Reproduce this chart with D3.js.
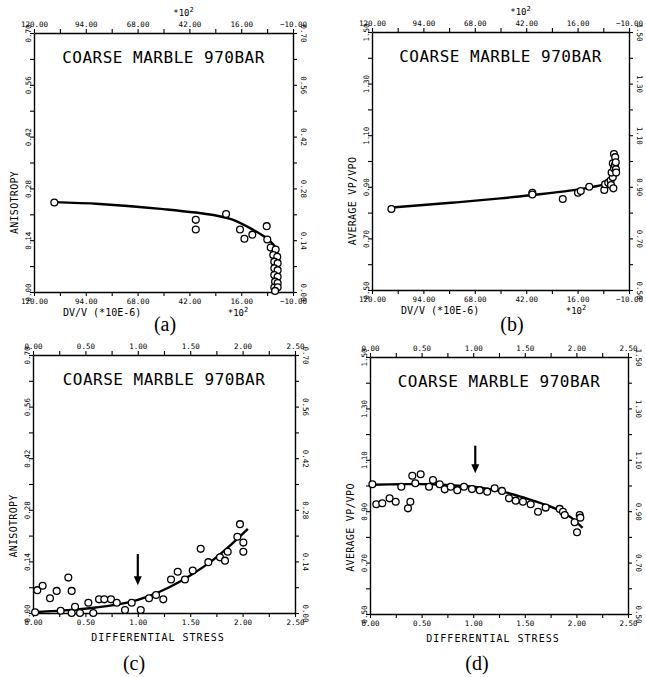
<!DOCTYPE html>
<html><head><meta charset="utf-8">
<script src="https://cdn.jsdelivr.net/npm/d3@7"></script>
<style>body{margin:0;background:#fff} svg{display:block}</style>
</head><body>
<svg id="chart" width="646" height="677"></svg>
<script>
// ---------- data ----------
const dvTicks = [120, 94, 68, 42, 16, -10];
const dvMinor = [107, 81, 55, 29, 3];
const stressTicks = [0, 0.5, 1.0, 1.5, 2.0, 2.5];
const stressMinor = [0.25, 0.75, 1.25, 1.75, 2.25];
const anisTicks = [0, 0.14, 0.28, 0.42, 0.56, 0.70];
const anisMinor = [0.07, 0.21, 0.35, 0.49, 0.63];
const vpTicks = [0.5, 0.7, 0.9, 1.1, 1.3, 1.5];
const vpMinor = [0.6, 0.8, 1.0, 1.2, 1.4];

const titleText = "COARSE MARBLE 970BAR";
const captions = ["(a)", "(b)", "(c)", "(d)"];

// (a) anisotropy vs dV/V
const aPtsX = [109.8, 38.8, 38.8, 23.6, 16.6, 14.4, 10.4, 3.2, 2.9, 1.2, -1.3, -0.1, -2.1, -0.6, -2.3, -0.6, -2.3, -0.6, -2.3, -1.0, -2.3, -0.6, -2.3, -1.0];
const aPtsY = [0.242, 0.195, 0.169, 0.211, 0.169, 0.144, 0.155, 0.178, 0.142, 0.120, 0.115, 0.100, 0.095, 0.082, 0.078, 0.064, 0.059, 0.046, 0.041, 0.028, 0.024, 0.012, 0.013, 0.003];
const aFitX = [110, 87, 55, 30, 20, 10, 3.2, -1.5, -2.3, -2.5];
const aFitY = [0.243, 0.238, 0.224, 0.208, 0.195, 0.168, 0.145, 0.118, 0.07, 0.02];

// (b) average Vp/Vp0 vs dV/V
const bPtsX = [110.2, 38.9, 38.9, 23.5, 15.8, 14.4, 10.1, 2.5, 2.1, 0.5, -0.7, -1.8, -1.2, -2.4, -1.8, -2.9, -3.4, -2.4, -0.9, -2.1, -3.0, -3.3, -3.5];
const bPtsY = [0.814, 0.877, 0.870, 0.853, 0.877, 0.884, 0.900, 0.888, 0.910, 0.916, 0.924, 0.937, 0.955, 0.972, 0.991, 0.984, 0.968, 1.027, 0.907, 0.894, 1.015, 0.995, 0.955];
const bFitX = [110, 80, 55, 39, 20, 8, 2, -1, -2, -2.5];
const bFitY = [0.82, 0.838, 0.855, 0.868, 0.885, 0.900, 0.912, 0.93, 0.96, 0.985];

// (c) anisotropy vs differential stress
const cPtsX = [0.02, 0.041, 0.092, 0.162, 0.226, 0.337, 0.369, 0.264, 0.401, 0.369, 0.448, 0.528, 0.575, 0.630, 0.680, 0.744, 0.799, 0.878, 0.942, 1.028, 1.107, 1.174, 1.243, 1.317, 1.381, 1.450, 1.524, 1.600, 1.673, 1.784, 1.832, 1.858, 1.950, 1.975, 2.007, 2.007];
const cPtsY = [0.002, 0.062, 0.074, 0.040, 0.060, 0.096, 0.060, 0.006, 0.017, 0.000, 0.000, 0.028, 0.000, 0.037, 0.037, 0.037, 0.028, 0.008, 0.028, 0.008, 0.040, 0.049, 0.037, 0.091, 0.112, 0.091, 0.115, 0.174, 0.138, 0.151, 0.142, 0.166, 0.207, 0.241, 0.191, 0.166];
const cFitX = [0, 0.3, 0.6, 0.9, 1.1, 1.3, 1.5, 1.7, 1.9, 2.05];
const cFitY = [0.002, 0.007, 0.015, 0.028, 0.045, 0.07, 0.102, 0.14, 0.188, 0.228];
const cArrow = [1.0, 0.16, 0.075];   // x, tail y, tip y

// (d) average Vp/Vp0 vs differential stress
const dPtsX = [0.023, 0.061, 0.119, 0.19, 0.249, 0.303, 0.368, 0.391, 0.410, 0.439, 0.491, 0.572, 0.610, 0.675, 0.724, 0.782, 0.846, 0.911, 0.988, 1.063, 1.136, 1.208, 1.279, 1.347, 1.412, 1.482, 1.557, 1.628, 1.702, 1.838, 1.870, 1.887, 1.983, 2.006, 2.032, 2.038];
const dPtsY = [1.005, 0.927, 0.931, 0.950, 0.937, 0.995, 0.911, 0.937, 1.038, 1.009, 1.044, 0.995, 1.021, 1.005, 0.985, 0.995, 0.982, 0.995, 0.986, 0.982, 0.976, 0.989, 0.979, 0.950, 0.941, 0.937, 0.927, 0.898, 0.914, 0.909, 0.898, 0.885, 0.857, 0.818, 0.885, 0.875];
const dFitX = [0.02, 0.3, 0.6, 0.9, 1.1, 1.3, 1.5, 1.7, 1.85, 1.95, 2.06];
const dFitY = [1.003, 1.005, 1.005, 0.998, 0.99, 0.975, 0.952, 0.925, 0.9, 0.875, 0.835];
const dArrow = [1.02, 1.155, 1.048];

// ---------- layout ----------
const svg = d3.select("#chart");
const MONO = "'DejaVu Sans Mono', monospace";
const fmt = d3.format(".2f");

const panels = [
  {frame:{x0:34,x1:293,y0:33,y1:292}, xDom:[120,-10], yDom:[0,0.7], xT:dvTicks, xM:dvMinor, yT:anisTicks, yM:anisMinor,
   px:aPtsX, py:aPtsY, fx:aFitX, fy:aFitY, arrow:null, xLab:"DV/V (*10E-6)", yLab:"ANISOTROPY", exp:true, cap:captions[0], capX:165, capY:331},
  {frame:{x0:372,x1:629,y0:32,y1:290}, xDom:[120,-10], yDom:[0.5,1.5], xT:dvTicks, xM:dvMinor, yT:vpTicks, yM:vpMinor,
   px:bPtsX, py:bPtsY, fx:bFitX, fy:bFitY, arrow:null, xLab:"DV/V (*10E-6)", yLab:"AVERAGE VP/VPO", exp:true, cap:captions[1], capX:512, capY:331},
  {frame:{x0:33,x1:295,y0:355,y1:613}, xDom:[0,2.5], yDom:[0,0.7], xT:stressTicks, xM:stressMinor, yT:anisTicks, yM:anisMinor,
   px:cPtsX, py:cPtsY, fx:cFitX, fy:cFitY, arrow:cArrow, xLab:"DIFFERENTIAL STRESS", yLab:"ANISOTROPY", exp:false, cap:captions[2], capX:134, capY:670},
  {frame:{x0:370,x1:628,y0:357,y1:614}, xDom:[0,2.5], yDom:[0.5,1.5], xT:stressTicks, xM:stressMinor, yT:vpTicks, yM:vpMinor,
   px:dPtsX, py:dPtsY, fx:dFitX, fy:dFitY, arrow:dArrow, xLab:"DIFFERENTIAL STRESS", yLab:"AVERAGE VP/VPO", exp:false, cap:captions[3], capX:477, capY:670}
];

function expLabel(g, x, y) {
  const t = g.append("text").attr("x", x).attr("y", y).attr("text-anchor", "middle")
    .attr("font-family", MONO).attr("font-size", 9);
  t.append("tspan").text("*10");
  t.append("tspan").attr("dy", -4).attr("font-size", 7).text("2");
}

panels.forEach(p => {
  const f = p.frame;
  const x = d3.scaleLinear().domain(p.xDom).range([f.x0, f.x1]);
  const y = d3.scaleLinear().domain(p.yDom).range([f.y1, f.y0]);
  const g = svg.append("g");
  const xAll = p.xT.concat(p.xM), yAll = p.yT.concat(p.yM);
  const xf = d => p.xT.includes(d) ? fmt(d) : "";
  const yf = d => p.yT.includes(d) ? fmt(d) : "";

  const style = sel => {
    sel.selectAll("path.domain").attr("stroke", "#000").attr("stroke-width", 1.4);
    sel.selectAll(".tick line").attr("stroke", "#000").attr("stroke-width", 1.1);
    sel.selectAll("text").attr("font-family", MONO).attr("font-size", 7.5).attr("fill", "#000");
  };

  g.append("g").attr("transform", `translate(0,${f.y1})`)
    .call(d3.axisBottom(x).tickValues(xAll).tickFormat(xf).tickSize(4).tickSizeOuter(0).tickPadding(3)).call(style);
  g.append("g").attr("transform", `translate(0,${f.y0})`)
    .call(d3.axisTop(x).tickValues(xAll).tickFormat(xf).tickSize(4).tickSizeOuter(0).tickPadding(2)).call(style);
  const gl = g.append("g").attr("transform", `translate(${f.x0},0)`)
    .call(d3.axisLeft(y).tickValues(yAll).tickFormat(yf).tickSize(4).tickSizeOuter(0)).call(style);
  gl.selectAll("text").attr("x", null).attr("dy", null).attr("text-anchor", "middle")
    .attr("transform", "translate(-3,0) rotate(-90)");
  const gr = g.append("g").attr("transform", `translate(${f.x1},0)`)
    .call(d3.axisRight(y).tickValues(yAll).tickFormat(yf).tickSize(4).tickSizeOuter(0)).call(style);
  gr.selectAll("text").attr("x", null).attr("dy", null).attr("text-anchor", "middle")
    .attr("transform", "translate(8,0) rotate(90)");

  // title
  g.append("text").attr("x", (f.x0 + f.x1) / 2).attr("y", f.y0 + 30).attr("text-anchor", "middle")
    .attr("font-family", MONO).attr("font-size", 16).attr("letter-spacing", 0.5).text(titleText);

  // axis titles
  if (p.exp) {
    g.append("text").attr("x", f.x0 + 29).attr("y", f.y1 + 24).attr("font-family", MONO)
      .attr("font-size", 10).text(p.xLab);
    expLabel(g, f.x0 + 204, f.y1 + 24);
    expLabel(g, (f.x0 + f.x1) / 2 + 20, f.y0 - 17);
  } else {
    g.append("text").attr("x", (f.x0 + f.x1) / 2 - 6).attr("y", f.y1 + 28).attr("text-anchor", "middle")
      .attr("font-family", MONO).attr("font-size", 10).attr("letter-spacing", 1).text(p.xLab);
  }
  const ly = p.exp ? (f.y0 + f.y1) / 2 + 40 : (f.y0 + f.y1) / 2 + 42;
  g.append("text").attr("transform", `translate(${f.x0 - 16},${ly}) rotate(-90)`)
    .attr("text-anchor", "middle").attr("font-family", MONO).attr("font-size", 10)
    .attr("letter-spacing", 0.3).text(p.yLab);

  // fit curve
  const fit = p.fx.map((v, i) => [v, p.fy[i]]);
  g.append("path").datum(fit)
    .attr("d", d3.line().x(d => x(d[0])).y(d => y(d[1])).curve(d3.curveCatmullRom.alpha(0.5)))
    .attr("fill", "none").attr("stroke", "#000").attr("stroke-width", 2.4);

  // points
  const pts = p.px.map((v, i) => [v, p.py[i]]);
  g.append("g").selectAll("circle").data(pts).join("circle")
    .attr("cx", d => x(d[0])).attr("cy", d => y(d[1])).attr("r", 3.4)
    .attr("fill", "#fff").attr("stroke", "#000").attr("stroke-width", 1.3);

  // arrow
  if (p.arrow) {
    const ax = x(p.arrow[0]), y1 = y(p.arrow[1]), y2 = y(p.arrow[2]);
    g.append("line").attr("x1", ax).attr("x2", ax).attr("y1", y1).attr("y2", y2 - 6)
      .attr("stroke", "#000").attr("stroke-width", 2.2);
    g.append("path").attr("d", `M${ax - 4},${y2 - 9} L${ax + 4},${y2 - 9} L${ax},${y2} Z`).attr("fill", "#000");
  }

  // caption
  g.append("text").attr("x", p.capX).attr("y", p.capY).attr("text-anchor", "middle")
    .attr("font-family", "'Liberation Serif', serif").attr("font-size", 20).text(p.cap);
});
</script>
</body></html>
